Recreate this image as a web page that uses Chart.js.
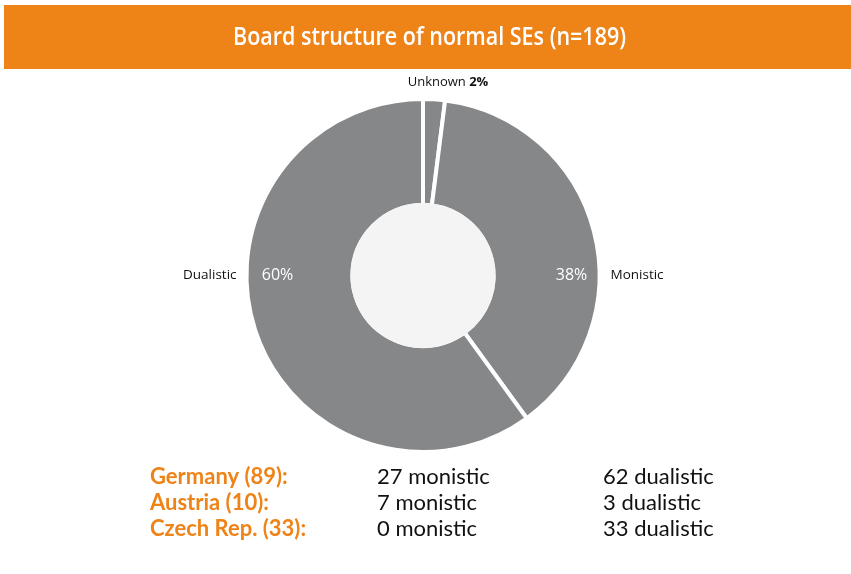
<!DOCTYPE html>
<html>
<head>
<meta charset="utf-8">
<script src="https://cdn.jsdelivr.net/npm/chart.js@4/dist/chart.umd.min.js"></script>
<style>
  html, body { margin: 0; padding: 0; background: #fff; }
  #wrap { width: 851px; height: 574px; position: relative; }
</style>
</head>
<body>
<div id="wrap"><canvas id="myChart" width="851" height="574"></canvas></div>
<script>
// chart data
var title = 'Board structure of normal SEs (n=189)';
var categories = ['Unknown', 'Monistic', 'Dualistic'];
var shares = [2, 38, 60];

// breakdown shown under the pie
var countries = ['Germany (89):', 'Austria (10):', 'Czech Rep. (33):'];
var monistic = [27, 7, 0];
var dualistic = [62, 3, 33];

var orange = '#ee8318';
var grey = '#868789';

// title bar, inner disc, labels and country table
var decor = {
    id: 'decor',
    beforeDraw: function (chart) {
        var c = chart.ctx;
        c.save();
        c.fillStyle = orange;
        c.fillRect(4, 5, chart.width - 4, 64);
        c.fillStyle = '#fff';
        c.font = '600 25px "Open Sans", sans-serif';
        c.textAlign = 'center';
        c.textBaseline = 'middle';
        // the original uses a condensed face, so squeeze it to the same width
        var tw = c.measureText(title).width;
        var sx = 393 / tw;
        c.translate(429.5, 38);
        c.scale(sx, 1);
        c.fillText(title, 0, 0);
        c.restore();
    },
    afterDatasetsDraw: function (chart) {
        var c = chart.ctx;
        var arcs = chart.getDatasetMeta(0).data;
        var a0 = arcs[0];
        c.save();
        c.fillStyle = '#f4f4f4';
        c.beginPath();
        c.arc(a0.x, a0.y, a0.innerRadius + 2, 0, Math.PI * 2);
        c.fill();
        c.restore();
    },
    afterDraw: function (chart) {
        var c = chart.ctx;
        var arcs = chart.getDatasetMeta(0).data;
        var cx = arcs[0].x, cy = arcs[0].y, r = arcs[0].outerRadius;
        c.save();
        c.textBaseline = 'middle';

        // Unknown label above the small slice
        c.fillStyle = '#111';
        c.font = '13px "Open Sans", sans-serif';
        var w1 = c.measureText(categories[0] + ' ').width;
        c.font = 'bold 13px "Open Sans", sans-serif';
        var w2 = c.measureText(shares[0] + '%').width;
        var ux = cx + 25 - (w1 + w2) / 2;
        c.textAlign = 'left';
        c.font = '13px "Open Sans", sans-serif';
        c.fillText(categories[0] + ' ', ux, cy - r - 17);
        c.font = 'bold 13px "Open Sans", sans-serif';
        c.fillText(shares[0] + '%', ux + w1, cy - r - 17);

        // Monistic on the right, Dualistic on the left
        c.font = '13.5px "Open Sans", sans-serif';
        c.textAlign = 'left';
        c.fillText(categories[1], cx + r + 11, cy);
        c.textAlign = 'right';
        c.fillText(categories[2], cx - r - 10, cy);

        c.fillStyle = '#fff';
        c.font = '16px "Open Sans", sans-serif';
        c.textAlign = 'center';
        c.fillText(shares[1] + '%', cx + r - 28, cy);
        c.fillText(shares[2] + '%', cx - r + 31, cy);

        // country table
        c.textAlign = 'left';
        c.textBaseline = 'middle';
        for (var i = 0; i < countries.length; i++) {
            var y = 477 + i * 26;
            c.fillStyle = orange;
            c.font = 'bold 22px Lato, sans-serif';
            c.fillText(countries[i], 150, y);
            c.fillStyle = '#111';
            c.font = '22px Lato, sans-serif';
            c.fillText(monistic[i] + ' monistic', 377, y);
            c.fillText(dualistic[i] + ' dualistic', 603, y);
        }
        c.restore();
    }
};

var ctx = document.getElementById('myChart').getContext('2d');
var chart = new Chart(ctx, {
    type: 'doughnut',
    data: {
        labels: categories,
        datasets: [{
            data: shares,
            backgroundColor: grey,
            borderColor: '#fff',
            borderWidth: 4,
            hoverOffset: 0,
            offset: 0
        }]
    },
    options: {
        responsive: false,
        animation: false,
        cutout: '40%',
        layout: {
            padding: { left: 244, right: 850 - 601, top: 97, bottom: 574 - 454 }
        },
        plugins: {
            legend: { display: false },
            tooltip: { enabled: false }
        }
    },
    plugins: [decor]
});
</script>
</body>
</html>
